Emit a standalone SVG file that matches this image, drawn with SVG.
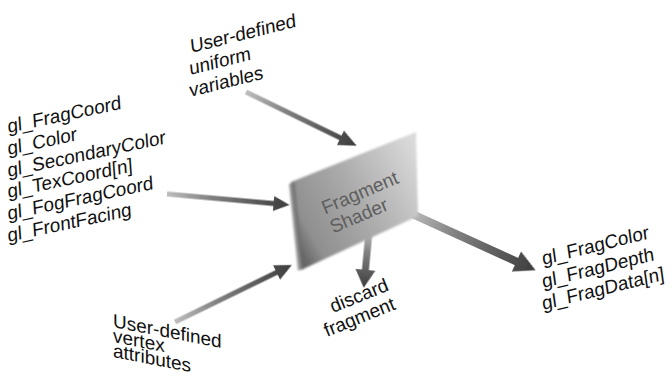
<svg xmlns="http://www.w3.org/2000/svg" width="672" height="380" viewBox="0 0 672 380">
  <defs>
    <style>
      .lbl { font-family: "Liberation Sans", Arial, sans-serif; font-size: 19px; fill: #111; }
      .sh { font-family: "Liberation Sans", Arial, sans-serif; font-size: 19px; fill: #5e5e5e; text-anchor: middle; }
      .arrow { fill: url(#arrowGrad); filter: url(#soft); }
    </style>
    <linearGradient id="arrowGrad" x1="0" y1="0" x2="1" y2="0">
      <stop offset="0" stop-color="#bdbdbd"/>
      <stop offset="0.35" stop-color="#828282"/>
      <stop offset="1" stop-color="#3c3c3c"/>
    </linearGradient>
    <linearGradient id="panelGrad" x1="0" y1="0.75" x2="1" y2="0.15">
      <stop offset="0" stop-color="#666666"/>
      <stop offset="0.12" stop-color="#8f8f8f"/>
      <stop offset="0.5" stop-color="#ababab"/>
      <stop offset="1" stop-color="#dadada"/>
    </linearGradient>
    <filter id="soft" x="-10%" y="-30%" width="120%" height="160%">
      <feGaussianBlur stdDeviation="0.7"/>
    </filter>
    <filter id="panelSoft" x="-10%" y="-10%" width="120%" height="120%">
      <feGaussianBlur stdDeviation="1.2"/>
    </filter>
  </defs>

  <g id="connectors">
    <!-- uniform variables -> shader -->
    <g transform="translate(246 92) rotate(25.9)">
      <path class="arrow" d="M0,-2.5 L105,-2.5 L105,-8 L123,0 L105,8 L105,2.5 L0,2.5 Z"/>
    </g>
    <!-- built-in inputs -> shader -->
    <g transform="translate(167 194) rotate(5.1)">
      <path class="arrow" d="M0,-2.5 L107,-2.5 L107,-7.5 L123,0 L107,7.5 L107,2.5 L0,2.5 Z"/>
    </g>
    <!-- vertex attributes -> shader -->
    <g transform="translate(175 322) rotate(-26)">
      <path class="arrow" d="M0,-2.5 L113,-2.5 L113,-8 L130,0 L113,8 L113,2.5 L0,2.5 Z"/>
    </g>
    <!-- shader -> discard fragment -->
    <g transform="translate(369 232) rotate(95.4)">
      <path class="arrow" d="M0,-3.5 L38,-3.5 L38,-10 L56,0 L38,10 L38,3.5 L0,3.5 Z"/>
    </g>
    <!-- shader -> outputs -->
    <g transform="translate(410 213) rotate(24.5)">
      <path class="arrow" d="M0,-4 L117,-4 L117,-11 L138,0 L117,11 L117,4 L0,4 Z"/>
    </g>
  </g>

  <g id="node-shader">
    <polygon points="291,182 416,132 418,216 301,270" fill="url(#panelGrad)" filter="url(#panelSoft)"/>
    <polygon points="289,184 295,182 303,268 298,271" fill="#6e6e6e" opacity="0.7" filter="url(#panelSoft)"/>
    <text class="sh" transform="translate(360 193) rotate(-23)" y="6">Fragment</text>
    <text class="sh" transform="translate(359 216) rotate(-23)" y="6">Shader</text>
  </g>

  <g id="label-uniform">
    <text class="lbl" transform="translate(191 53) rotate(-14) skewX(-8)">User-defined</text>
    <text class="lbl" transform="translate(190 75) rotate(-14) skewX(-8)">uniform</text>
    <text class="lbl" transform="translate(190 97) rotate(-14) skewX(-8)">variables</text>
  </g>

  <g id="label-builtins">
    <text class="lbl" transform="translate(8 133) rotate(-12) skewX(-8)">gl_FragCoord</text>
    <text class="lbl" transform="translate(8 155) rotate(-12) skewX(-8)">gl_Color</text>
    <text class="lbl" transform="translate(8 177) rotate(-12) skewX(-8)">gl_SecondaryColor</text>
    <text class="lbl" transform="translate(8 198) rotate(-12) skewX(-8)">gl_TexCoord[n]</text>
    <text class="lbl" transform="translate(8 220) rotate(-12) skewX(-8)">gl_FogFragCoord</text>
    <text class="lbl" transform="translate(8 242) rotate(-12) skewX(-8)">gl_FrontFacing</text>
  </g>

  <g id="label-vertex" transform="translate(113 327) skewY(11)">
    <text class="lbl" x="0" y="0">User-defined</text>
    <text class="lbl" x="0" y="15">vertex</text>
    <text class="lbl" x="0" y="30">attributes</text>
  </g>

  <g id="label-discard">
    <text class="lbl" transform="translate(333 313) rotate(-22)">discard</text>
    <text class="lbl" transform="translate(327 337) rotate(-22)">fragment</text>
  </g>

  <g id="label-outputs">
    <text class="lbl" transform="translate(543 265) rotate(-14) skewX(-6)">gl_FragColor</text>
    <text class="lbl" transform="translate(543 288) rotate(-14) skewX(-6)">gl_FragDepth</text>
    <text class="lbl" transform="translate(543 310) rotate(-14) skewX(-6)">gl_FragData[n]</text>
  </g>
</svg>
